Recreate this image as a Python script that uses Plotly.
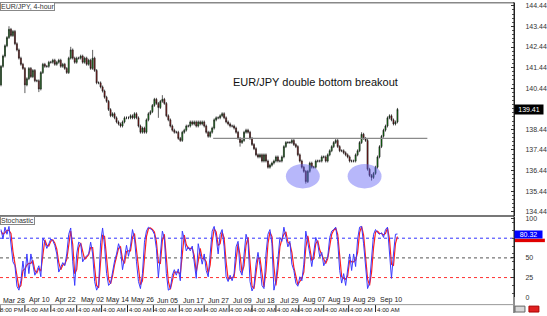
import plotly.graph_objects as go
import numpy as np

# ---------------- data ----------------
closes = [
    141.5, 142.0, 142.5, 142.9, 143.3, 143.0, 143.2, 142.6, 142.3, 141.9,
    141.6, 141.4, 140.6, 140.9, 141.4, 141.0, 141.3, 140.8, 140.8, 140.4,
    141.2, 141.6, 141.5, 141.5, 141.7, 141.7, 141.8, 141.6, 141.7, 141.8,
    141.5, 141.6, 141.4, 141.2, 141.9, 142.3, 141.9, 141.7, 141.9, 141.9,
    142.0, 141.7, 141.9, 141.6, 141.8, 141.4, 141.9, 141.3, 140.7, 140.7,
    140.5, 140.3, 140.0, 139.8, 139.4, 139.1, 139.2, 139.0, 138.8, 138.7,
    138.6, 138.8, 139.0, 139.0, 139.0, 139.1, 139.0, 139.2, 139.0, 138.6,
    138.3, 138.5, 138.3, 138.9, 139.2, 139.3, 139.6, 139.9, 139.7, 139.5,
    139.8, 139.9, 139.7, 139.1, 138.9, 138.6, 138.4, 138.3, 138.3, 138.0,
    137.9, 138.3, 138.4, 138.6, 138.6, 138.8, 138.7, 138.8, 138.6, 138.8,
    138.7, 138.8, 138.6, 138.3, 138.1, 138.3, 138.5, 138.9, 139.0, 139.0,
    139.1, 139.2, 139.0, 138.8, 138.7, 138.6, 138.6, 138.5, 138.3, 138.0,
    137.8, 137.9, 138.3, 138.4, 138.3, 138.0, 137.7, 137.5, 137.2, 137.1,
    137.2, 136.9, 137.2, 136.9, 136.6, 136.7, 136.8, 136.9, 137.1, 136.9,
    136.9, 137.1, 137.6, 137.8, 137.8, 137.8, 137.9, 137.7, 137.6, 137.2,
    136.9, 136.6, 136.4, 135.9, 136.4, 136.8, 136.6, 136.6, 136.9, 136.9,
    136.9, 137.1, 137.1, 136.9, 137.2, 137.4, 137.6, 137.8, 137.9, 137.6,
    137.4, 137.4, 137.3, 137.2, 137.1, 136.9, 136.9, 136.9, 137.2, 137.4,
    137.8, 138.2, 138.0, 137.9, 136.5, 136.2, 136.1, 136.3, 136.6, 137.1,
    137.6, 138.1, 138.4, 138.6, 139.0, 139.1, 138.9, 138.7, 138.8, 139.41,
]
first_open = 140.6
# notable long wicks (bar index: extreme)
wick_lows = {12: 140.2, 19: 140.25, 79: 139.0, 120: 137.6, 153: 135.8, 186: 135.95}
wick_highs = {4: 143.45, 35: 142.45, 46: 142.3, 81: 140.1, 181: 138.3}

stoch_k = [
    86, 74, 89, 80, 90, 71, 45, 40, 14, 9,
    21, 46, 26, 55, 30, 55, 39, 28, 34, 40,
    26, 75, 70, 62, 68, 74, 72, 66, 55, 32,
    38, 44, 40, 55, 80, 88, 45, 15, 55, 70,
    68, 45, 50, 52, 55, 70, 55, 20, 9, 15,
    70, 88, 65, 30, 15, 18, 35, 46, 55, 68,
    60, 35, 50, 66, 52, 65, 86, 75, 45, 20,
    11, 30, 70, 84, 89, 87, 85, 80, 62, 25,
    60, 84, 75, 30, 9, 11, 28, 35, 28, 36,
    21, 84, 74, 59, 64, 59, 65, 40, 24, 68,
    55, 42, 55, 34, 26, 55, 84, 90, 76, 55,
    80, 86, 64, 26, 20, 28, 21, 30, 64, 71,
    34, 28, 51, 80, 71, 20, 8, 14, 42, 57,
    40, 15, 11, 55, 80, 86, 68, 9, 21, 51,
    76, 71, 89, 76, 64, 71, 42, 34, 18, 14,
    26, 21, 42, 84, 71, 55, 39, 59, 76, 68,
    51, 57, 40, 46, 51, 76, 84, 86, 89, 71,
    34, 18, 30, 15, 39, 55, 34, 55, 39, 74,
    89, 90, 68, 34, 11, 18, 46, 80, 86, 82,
    80, 82, 76, 86, 89, 59, 24, 55, 80, 80.32,
]
stoch_d = [
    84, 80, 82, 85, 85, 81, 58, 43, 27, 12,
    15, 34, 36, 41, 43, 43, 47, 34, 31, 37,
    33, 51, 73, 66, 65, 71, 73, 69, 61, 44,
    35, 41, 42, 48, 68, 84, 67, 30, 35, 63,
    69, 57, 48, 51, 54, 63, 63, 38, 15, 12,
    43, 79, 77, 48, 23, 17, 27, 41, 51, 62,
    64, 48, 43, 58, 59, 59, 76, 81, 60, 33,
    16, 21, 50, 77, 87, 88, 86, 83, 71, 44,
    43, 72, 80, 53, 20, 10, 20, 32, 32, 32,
    29, 53, 79, 67, 62, 62, 62, 53, 32, 46,
    62, 49, 49, 45, 30, 41, 70, 87, 83, 66,
    68, 83, 75, 45, 23, 24, 25, 26, 47, 68,
    53, 31, 40, 66, 76, 46, 14, 11, 28, 50,
    49, 28, 13, 33, 68, 83, 77, 39, 15, 36,
    64, 74, 80, 83, 70, 68, 57, 38, 26, 16,
    20, 24, 32, 63, 78, 63, 47, 49, 68, 72,
    60, 54, 49, 43, 49, 64, 80, 85, 88, 80,
    53, 26, 24, 23, 27, 47, 45, 45, 47, 57,
    82, 90, 79, 51, 23, 15, 32, 63, 83, 84,
    81, 81, 79, 81, 88, 74, 42, 40, 68, 77,
]

price_ticks = [134.44, 135.44, 136.44, 137.44, 138.44, 140.44, 141.44, 142.44, 143.44, 144.44]
stoch_ticks = [0, 25, 50, 100]
last_price = 139.41
last_k = 80.32
neckline = 138.0

dates = ["Mar 28", "Apr 10", "Apr 22", "May 02", "May 14", "May 26", "Jun 05", "Jun 17",
         "Jun 27", "Jul 09", "Jul 18", "Jul 29", "Aug 07", "Aug 19", "Aug 29", "Sep 10"]
times = ["8:00 PM"] + ["4:00 AM"] * 15
date_bars = [0.5, 13.5, 26.5, 39.5, 52, 65, 78, 91, 103.5, 116, 127.5, 139.5, 151, 163.5, 176, 189.5]

title_text = "EUR/JPY, 4-hour"
note_text = "EUR/JPY double bottom breakout"

# ---------------- build ----------------
W, H = 547, 316
PW = 516
X0 = -0.5
XR = [X0, X0 + PW / 2]


def py(p):
    return 1 - p / H


def px(p):
    return p / PW


def bar_paper(b):
    return (b - X0) / (XR[1] - XR[0])


n = len(closes)
xs = list(range(n))
opens = [first_open] + closes[:-1]
highs = [max(o, c) + 0.07 for o, c in zip(opens, closes)]
lows = [min(o, c) - 0.07 for o, c in zip(opens, closes)]
for i, v in wick_lows.items():
    lows[i] = min(lows[i], v)
for i, v in wick_highs.items():
    highs[i] = max(highs[i], v)

fig = go.Figure()
fig.add_trace(go.Candlestick(
    x=xs, open=opens, high=highs, low=lows, close=closes,
    increasing=dict(line=dict(color="#1a1a1a", width=0.7), fillcolor="#00a800"),
    decreasing=dict(line=dict(color="#1a1a1a", width=0.7), fillcolor="#b00000"),
    xaxis="x", yaxis="y", hoverinfo="skip",
))

ks = list(range(len(stoch_k)))
fig.add_trace(go.Scatter(x=ks, y=stoch_d, mode="lines", line=dict(color="#ff2020", width=1.2),
                         xaxis="x2", yaxis="y2", hoverinfo="skip"))
fig.add_trace(go.Scatter(x=ks, y=stoch_k, mode="lines", line=dict(color="#3a3aff", width=1),
                         xaxis="x2", yaxis="y2", hoverinfo="skip"))

tickfont = dict(family="Liberation Sans, Arial", size=7, color="#333333")
fig.update_layout(
    width=W, height=H, margin=dict(l=0, r=W - PW, t=0, b=0),
    paper_bgcolor="white", plot_bgcolor="white", showlegend=False,
    xaxis=dict(domain=[0, 1], range=XR, anchor="y", visible=False,
               rangeslider=dict(visible=False), fixedrange=True),
    yaxis=dict(domain=[py(217), py(1)], range=[134.25, 144.58], side="right",
               tickmode="array", tickvals=price_ticks, ticktext=[f"{v:.2f}" for v in price_ticks],
               tickfont=tickfont, ticks="inside", ticklen=3, tickcolor="#333",
               ticklabelstandoff=9, showgrid=False, zeroline=False,
               showline=True, linecolor="#222", linewidth=1,
               minor=dict(ticks="inside", ticklen=2, tickcolor="#555",
                          tickmode="array", tickvals=list(np.arange(134.24, 144.6, 0.2)))),
    xaxis2=dict(domain=[0, 1], range=XR, anchor="y2", visible=False, fixedrange=True),
    yaxis2=dict(domain=[py(300), py(218)], range=[0, 102.5], side="right",
                tickmode="array", tickvals=stoch_ticks, ticktext=[str(v) for v in stoch_ticks],
                tickfont=tickfont, ticks="inside", ticklen=3, tickcolor="#333",
                ticklabelstandoff=9, showgrid=False, zeroline=False,
                showline=True, linecolor="#222", linewidth=1,
                minor=dict(ticks="inside", ticklen=2, tickcolor="#555",
                           tickmode="array", tickvals=list(range(5, 100, 10)))),
)

shapes = []
# frame lines
shapes.append(dict(type="line", xref="paper", yref="paper", x0=0, x1=1, y0=py(0.7), y1=py(0.7),
                   line=dict(color="#888", width=1.5)))
shapes.append(dict(type="line", xref="paper", yref="paper", x0=0, x1=1, y0=py(217.5), y1=py(217.5),
                   line=dict(color="#777", width=2)))
shapes.append(dict(type="line", xref="paper", yref="paper", x0=1, x1=1, y0=0, y1=1,
                   line=dict(color="#222", width=1)))
shapes.append(dict(type="line", xref="paper", yref="paper", x0=0, x1=1, y0=py(307.5), y1=py(307.5),
                   line=dict(color="#999", width=1)))
# stochastic levels
for lv, col in [(75, "#3030ff"), (50, "#555555"), (25, "#ff3030")]:
    shapes.append(dict(type="line", xref="paper", yref="y2", x0=0, x1=1, y0=lv, y1=lv,
                       line=dict(color=col, width=1, dash="dot"), layer="below"))
# neckline
shapes.append(dict(type="line", xref="x", yref="y", x0=106.5, x1=214, y0=neckline, y1=neckline,
                   line=dict(color="#8a8a8a", width=1.3)))
# double bottom circles
for (a, b) in [(143, 160), (174, 191)]:
    shapes.append(dict(type="circle", xref="x", yref="y", x0=a, x1=b, y0=135.57, y1=136.76,
                       fillcolor="rgba(95,95,245,0.45)", line=dict(width=0)))
# signal tag on the right
shapes.append(dict(type="rect", xref="paper", yref="paper", x0=px(517), x1=px(547),
                   y0=py(244), y1=py(240.5), fillcolor="#e00000", line=dict(width=0)))
# time axis tick marks
for b in date_bars:
    xp = max(bar_paper(b - 1.5), 0.0)
    shapes.append(dict(type="line", xref="paper", yref="paper", x0=xp, x1=xp,
                       y0=py(315), y1=py(308), line=dict(color="#222", width=1)))
# bottom-right icons
shapes.append(dict(type="rect", xref="paper", yref="paper", x0=px(517), x1=px(527),
                   y0=py(315), y1=py(309), fillcolor="#d8d8d8", line=dict(color="#666", width=1)))
shapes.append(dict(type="rect", xref="paper", yref="paper", x0=px(531), x1=px(541),
                   y0=py(315), y1=py(309), fillcolor="#e02020", line=dict(color="#a00", width=1)))
fig.update_layout(shapes=shapes)

ann = []
ann.append(dict(text=title_text, xref="paper", yref="paper", x=0, y=py(0.5), xanchor="left", yanchor="top",
                showarrow=False, font=dict(family="Liberation Sans, Arial", size=7, color="#333"),
                bgcolor="white", bordercolor="#888", borderwidth=1, borderpad=0))
ann.append(dict(text="Stochastic", xref="paper", yref="paper", x=0, y=py(217.5), xanchor="left", yanchor="top",
                showarrow=False, font=dict(family="Liberation Sans, Arial", size=7, color="#333"),
                bgcolor="white", bordercolor="#888", borderwidth=1, borderpad=0))
ann.append(dict(text=note_text, xref="x", yref="y", x=158, y=140.76, showarrow=False,
                font=dict(family="Liberation Sans, Arial", size=11, color="#111")))
ann.append(dict(text=f"{last_price:.2f}", xref="paper", yref="y", x=px(516.5), y=last_price,
                xanchor="left", yanchor="middle", showarrow=False, bgcolor="#000",
                font=dict(family="Liberation Sans, Arial", size=7, color="white"), borderpad=1, width=26))
ann.append(dict(text=f"{last_k:.2f}", xref="paper", yref="paper", x=px(516.5), y=py(236.5),
                xanchor="left", yanchor="middle", showarrow=False, bgcolor="#0000ff",
                font=dict(family="Liberation Sans, Arial", size=7, color="white"), borderpad=0, width=27))
lab_font = dict(family="Liberation Sans, Arial", size=7, color="#222")
time_font = dict(family="Liberation Sans, Arial", size=6.2, color="#222")
for d, t, b in zip(dates, times, date_bars):
    ann.append(dict(text=d, xref="paper", yref="paper", x=bar_paper(b), y=py(303),
                    xanchor="left", yanchor="middle", showarrow=False, font=lab_font, borderpad=0))
    ann.append(dict(text=t, xref="paper", yref="paper", x=bar_paper(b - 1.5), y=py(312),
                    xanchor="left", yanchor="middle", showarrow=False, font=time_font, borderpad=0))
fig.update_layout(annotations=ann)

fig.write_html("out.html")
